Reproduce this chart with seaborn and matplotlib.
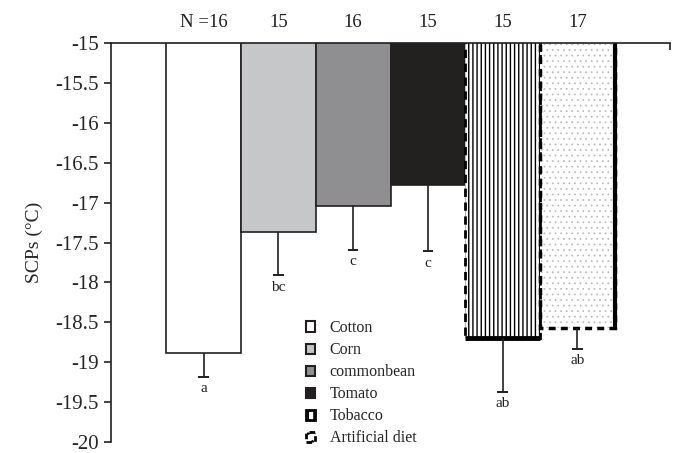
import matplotlib
matplotlib.use("Agg")
import matplotlib.pyplot as plt
import matplotlib.patches as mpatches
import seaborn as sns
import pandas as pd
import numpy as np

diets = ["Cotton", "Corn", "commonbean", "Tomato", "Tobacco", "Artificial diet"]
scp_mean = [-18.88, -17.37, -17.04, -16.78, -18.70, -18.57]
scp_se = [0.30, 0.54, 0.55, 0.83, 0.67, 0.26]
sig_letters = ["a", "bc", "c", "c", "ab", "ab"]
n_labels = ["N =16", "15", "16", "15", "15", "17"]
y_ticks = [-15, -15.5, -16, -16.5, -17, -17.5, -18, -18.5, -19, -19.5, -20]

colors = ["#ffffff", "#c6c7c9", "#8e8f92", "#231f20", "#ffffff", "#ffffff"]
hatches = [None, None, None, None, "||", ".."]

sns.set_style("white")
plt.rcParams["font.family"] = ["Liberation Serif", "DejaVu Serif"]
plt.rcParams["hatch.linewidth"] = 1.0

df = pd.DataFrame({"diet": diets, "scp": scp_mean})

fig = plt.figure(figsize=(6.81, 4.53), dpi=100)
ax = fig.add_axes([0.163, 0.024, 0.821, 0.881])

sns.barplot(data=df, x="diet", y="scp", hue="diet", palette=colors,
            width=1.0, edgecolor="#231f20", linewidth=1.2, legend=False, ax=ax)

for i, p in enumerate(ax.patches):
    x0, w, y0, h = p.get_x(), p.get_width(), p.get_y(), p.get_height()
    if hatches[i] == "||":
        p.set_hatch("||||")
        p.set_edgecolor("black")
        p.set_linewidth(0)
        ax.add_patch(mpatches.Rectangle((x0, y0), w, h, fill=False,
                                        edgecolor="black", linewidth=2.0,
                                        linestyle=(0, (3, 2)),
                                        zorder=p.get_zorder() + 0.1))
        ax.plot([x0, x0 + w], [y0 + h, y0 + h], color="black", linewidth=3.5,
                solid_capstyle="butt", zorder=p.get_zorder() + 0.2)
    elif hatches[i] == "..":
        p.set_hatch("...")
        p.set_edgecolor("#b8b8b8")
        if hasattr(p, "set_hatch_linewidth"):
            p.set_hatch_linewidth(0.5)
        p.set_linewidth(0)
        ax.add_patch(mpatches.Rectangle((x0, y0), w, h, fill=False,
                                        edgecolor="black", linewidth=2.5,
                                        linestyle=(0, (2, 1.5)),
                                        zorder=p.get_zorder() + 0.1))
        ax.plot([x0 + w, x0 + w], [y0, y0 + h], color="black", linewidth=3,
                solid_capstyle="butt", zorder=p.get_zorder() + 0.2)

x = np.arange(len(diets))
se = np.array(scp_se)
mean = np.array(scp_mean)
low = mean - se
ax.vlines(x, low, mean, colors="#231f20", linewidth=1.2, zorder=5)
ax.hlines(low, x - 0.07, x + 0.07, colors="#231f20", linewidth=1.4, zorder=5)

for i in range(len(diets)):
    ax.text(x[i], low[i] - 0.07, sig_letters[i], ha="center",
            va="top", fontsize=11, color="#231f20")
    ax.text(x[i], -14.74, n_labels[i], ha="center", va="center",
            fontsize=13.5, color="#231f20", clip_on=False)

ax.set_ylim(-20, -15)
ax.set_xlim(-1.24, 6.24)
ax.set_yticks(y_ticks)
ax.set_yticklabels([f"{t:g}" for t in y_ticks], fontsize=15)
ax.set_xticks([])
ax.set_xlabel("")
ax.set_ylabel("SCPs (°C)", fontsize=14, labelpad=9)
ax.tick_params(axis="y", direction="out", length=5, width=1.2, color="#231f20",
               left=True, pad=4)
for s in ["right", "bottom"]:
    ax.spines[s].set_visible(False)
for s in ["left", "top"]:
    ax.spines[s].set_color("#231f20")
    ax.spines[s].set_linewidth(1.2)
ax.plot([1.0], [1.0], transform=ax.transAxes, marker=3, markersize=5,
        markeredgewidth=1.2, color="#231f20", clip_on=False)

handles = []
for i, d in enumerate(diets):
    if hatches[i] == "||":
        h = mpatches.Patch(facecolor="white", edgecolor="black", hatch="|||",
                           linewidth=2, label=d)
    elif hatches[i] == "..":
        h = mpatches.Patch(facecolor="white", edgecolor="black", hatch="..",
                           linewidth=2, linestyle=(0, (2, 1.5)), label=d)
    else:
        h = mpatches.Patch(facecolor=colors[i], edgecolor="#231f20",
                           linewidth=1.5, label=d)
    handles.append(h)
ax.legend(handles=handles, loc="upper left", bbox_to_anchor=(0.428, 0.325),
          bbox_transform=fig.transFigure, frameon=False, fontsize=11.5,
          handlelength=0.6, handleheight=0.6, handletextpad=0.9,
          labelspacing=0.38)

fig.savefig("out.png", dpi=100)
